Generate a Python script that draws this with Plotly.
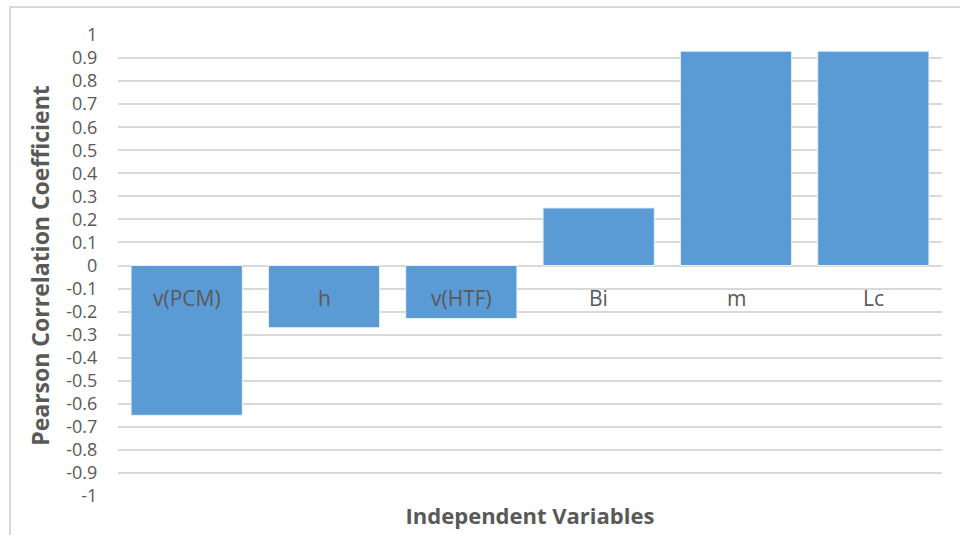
import plotly.graph_objects as go

categories = ["v(PCM)", "h", "v(HTF)", "Bi", "m", "Lc"]
values = [-0.65, -0.27, -0.23, 0.25, 0.93, 0.93]
y_ticks = [round(-1 + 0.1 * i, 1) for i in range(21)]
y_tick_labels = ["0" if abs(v) < 1e-9 else f"{v:g}" for v in y_ticks]

FONT = "Open Sans"
GRAY = "#595959"

fig = go.Figure()
fig.add_trace(go.Bar(
    x=categories, y=values,
    marker=dict(color="#5b9bd5", line=dict(color="#eaf2fa", width=1)),
    width=0.81,
    hoverinfo="x+y",
))

for c in categories:
    fig.add_annotation(x=c, y=0, xref="x", yref="y", text=c, showarrow=False,
                       yanchor="middle", yshift=-32,
                       font=dict(family=FONT, size=21, color=GRAY))

fig.update_layout(
    width=960, height=535,
    margin=dict(l=118, r=18, t=35, b=36),
    paper_bgcolor="white", plot_bgcolor="white",
    showlegend=False,
    font=dict(family=FONT, color=GRAY),
    xaxis=dict(
        showticklabels=False, showgrid=False, zeroline=False, showline=False,
        range=[-0.5, 5.5],
        title=dict(text="<b>Independent Variables</b>", font=dict(family=FONT, size=22, color=GRAY), standoff=12),
    ),
    yaxis=dict(
        range=[-1, 1], tickvals=y_ticks, ticktext=y_tick_labels,
        showgrid=True, gridcolor="#d9d9d9", gridwidth=2,
        zeroline=True, zerolinecolor="#d9d9d9", zerolinewidth=2,
        showline=False,
        ticks="outside", ticklen=16, tickcolor="rgba(0,0,0,0)",
        tickfont=dict(family=FONT, size=18, color=GRAY),
        title=dict(text="<b>Pearson Correlation Coefficient</b>", font=dict(family=FONT, size=23, color=GRAY), standoff=10),
    ),
    shapes=[dict(type="rect", xref="paper", yref="paper",
                 x0=(10 - 118) / 824, x1=(975 - 118) / 824,
                 y0=(498 - 560) / 463, y1=(498 - 7) / 463,
                 line=dict(color="#d9d9d9", width=2), fillcolor="rgba(0,0,0,0)", layer="below")],
)

fig.write_html("out.html", config={"displayModeBar": False},
               post_script="document.body.style.margin='0';document.body.style.overflow='hidden';")
